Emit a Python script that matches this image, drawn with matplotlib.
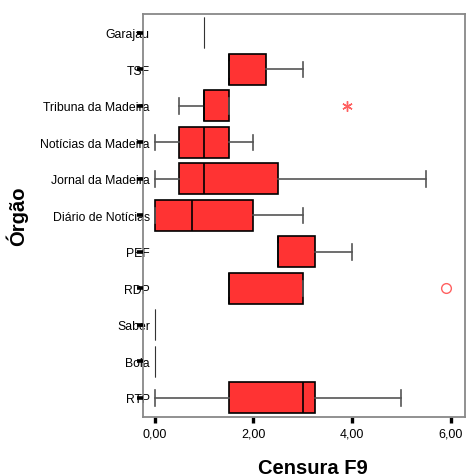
import matplotlib
matplotlib.use("Agg")
import matplotlib.pyplot as plt

# Box-plot summaries (top to bottom)
orgaos = ["Garajau", "TSF", "Tribuna da Madeira", "Notícias da Madeira",
          "Jornal da Madeira", "Diário de Notícias", "PEF", "RDP",
          "Saber", "Bola", "RTP"]
whislo = [1.0, 1.5, 0.5, 0.0, 0.0, 0.0, 2.5, 1.5, 0.0, 0.0, 0.0]
q1     = [1.0, 1.5, 1.0, 0.5, 0.5, 0.0, 2.5, 1.5, 0.0, 0.0, 1.5]
med    = [1.0, 1.5, 1.0, 1.0, 1.0, 0.75, 2.5, 1.5, 0.0, 0.0, 3.0]
q3     = [1.0, 2.25, 1.5, 1.5, 2.5, 2.0, 3.25, 3.0, 0.0, 0.0, 3.25]
whishi = [1.0, 3.0, 1.5, 2.0, 5.5, 3.0, 4.0, 3.0, 0.0, 0.0, 5.0]
outliers = [[], [], [3.9], [], [], [], [], [5.9], [], [], []]
outlier_marker = ["o", "o", (6, 2, 0), "o", "o", "o", "o", "o", "o", "o", "o"]
xticks = [0, 2, 4, 6]
xticklabels = ["0,00", "2,00", "4,00", "6,00"]

plt.rcParams["font.family"] = ["Liberation Sans", "DejaVu Sans"]

fig = plt.figure(figsize=(4.67, 4.77), dpi=100)
rect = [0.306, 0.124, 0.69, 0.845]
ax = fig.add_axes(rect)

stats = []
for i, name in enumerate(orgaos):
    stats.append(dict(label=name, whislo=whislo[i], q1=q1[i], med=med[i],
                      q3=q3[i], whishi=whishi[i], fliers=outliers[i]))

# reverse so the first category sits at the top
pos = list(range(len(orgaos)))[::-1]
parts = ax.bxp(stats, positions=pos, vert=False, widths=0.85,
               patch_artist=True, showfliers=True,
               boxprops=dict(facecolor="#ff3333", edgecolor="black", linewidth=1.2),
               medianprops=dict(color="black", linewidth=1.2),
               whiskerprops=dict(color="#555555", linewidth=1.2),
               capprops=dict(color="#555555", linewidth=1.2),
               flierprops=dict(markeredgecolor="#ff6060", markerfacecolor="none",
                               markersize=7, markeredgewidth=1.0))
for fl, m in zip(parts["fliers"], outlier_marker):
    fl.set_marker(m)
    if m != "o":
        fl.set_markersize(7.5)

# groups with a single value show up as a thin line only
for i in range(len(orgaos)):
    if q1[i] == q3[i]:
        parts["boxes"][i].set_linewidth(0.6)
        parts["boxes"][i].set_edgecolor("#444444")
        parts["medians"][i].set_linewidth(0.8)
        parts["medians"][i].set_color("#333333")
        for c in parts["caps"][2 * i:2 * i + 2]:
            c.set_visible(False)

ax.set_xlim(-0.24, 6.29)
ax.set_ylim(-0.52, 10.52)
ax.set_yticks(pos)
ax.set_yticklabels(orgaos, fontsize=8.8)
ax.set_xticks(xticks)
ax.set_xticklabels(xticklabels, fontsize=9)
ax.tick_params(axis="y", length=0, pad=-5)
ax.tick_params(axis="x", length=4.5, width=2.4, pad=3.5, color="black")

for s in ax.spines.values():
    s.set_color("#888888")
    s.set_linewidth(1.3)

ax.set_xlabel("Censura F9", fontsize=14.5, fontweight="bold")
ax.xaxis.set_label_coords(0.528, -0.102)
ax.set_ylabel("Órgão", fontsize=14.5, fontweight="bold")
ax.yaxis.set_label_coords(-0.357, 0.5)

# overlay axes so the y tick marks are drawn on top of the labels
ax_t = fig.add_axes(rect, sharey=ax)
ax_t.patch.set_visible(False)
for s in ax_t.spines.values():
    s.set_visible(False)
ax_t.set_xticks([])
ax_t.tick_params(axis="y", length=4.5, width=2.6, color="black", labelleft=False)

fig.savefig("out.png", dpi=100)
